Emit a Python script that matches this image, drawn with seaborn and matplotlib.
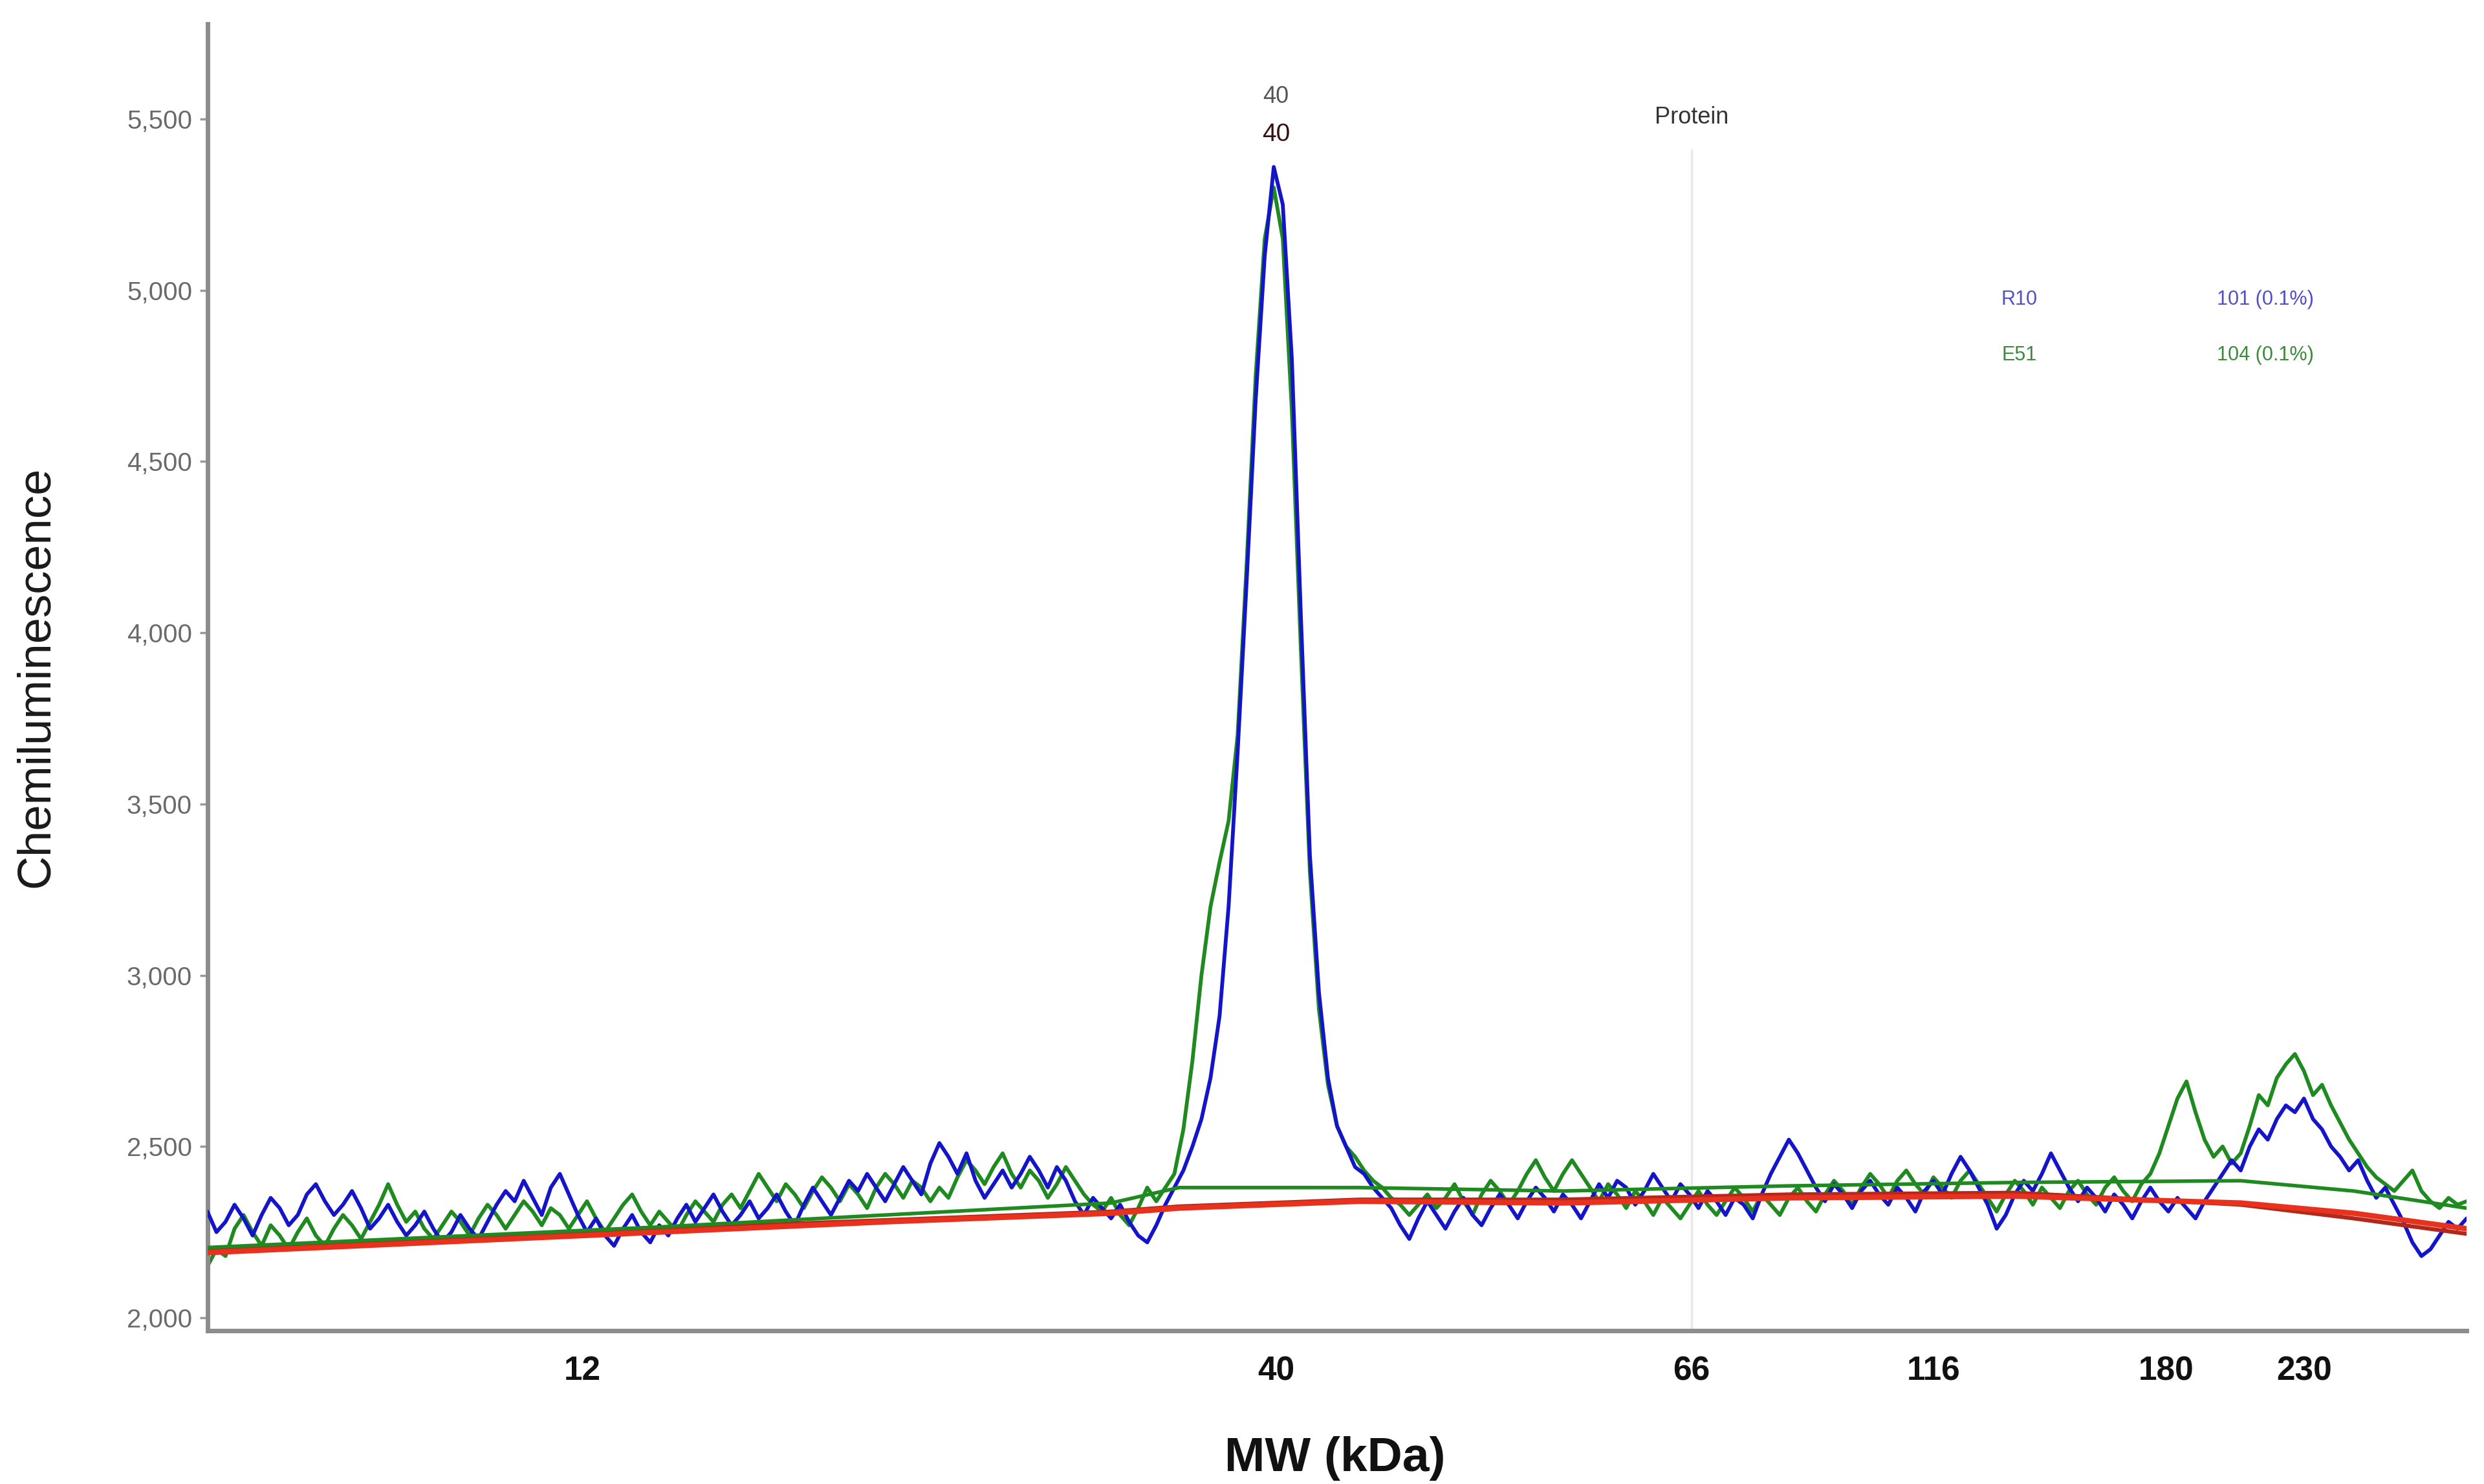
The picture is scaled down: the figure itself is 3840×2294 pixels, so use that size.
import numpy as np
import pandas as pd
import matplotlib
matplotlib.use("Agg")
import matplotlib.pyplot as plt
import seaborn as sns

# ---------------- data ----------------
ladder_mw = ["12", "40", "66", "116", "180", "230"]
ladder_pos = [16.6, 47.3, 65.7, 76.4, 86.7, 92.8]

position = np.linspace(0, 100, 251)

blue_trace = [
    2310, 2250, 2280, 2330, 2290, 2240, 2300, 2350, 2320, 2270,
    2300, 2360, 2390, 2340, 2300, 2330, 2370, 2320, 2260, 2290,
    2330, 2280, 2240, 2270, 2310, 2260, 2220, 2250, 2300, 2260,
    2230, 2280, 2330, 2370, 2340, 2400, 2350, 2300, 2380, 2420,
    2360, 2300, 2250, 2290, 2240, 2210, 2260, 2300, 2250, 2220,
    2270, 2240, 2290, 2330, 2280, 2320, 2360, 2310, 2270, 2300,
    2340, 2290, 2320, 2360, 2310, 2270, 2330, 2380, 2340, 2300,
    2350, 2400, 2370, 2420, 2380, 2340, 2390, 2440, 2400, 2360,
    2450, 2510, 2470, 2420, 2480, 2400, 2350, 2390, 2430, 2380,
    2420, 2470, 2430, 2380, 2440, 2400, 2340, 2300, 2350, 2320,
    2290, 2330, 2280, 2240, 2220, 2270, 2330,
    2380, 2430, 2500, 2580, 2700, 2880, 3200, 3650, 4150, 4680,
    5100, 5360, 5250, 4800, 4050, 3350, 2950, 2700, 2560, 2500,
    2440, 2420, 2380, 2350, 2320, 2270, 2230, 2290,
    2340, 2300, 2260, 2310, 2350, 2300, 2270, 2320, 2360, 2330,
    2290, 2340, 2380, 2350, 2310, 2360, 2330, 2290, 2340, 2390,
    2350, 2400, 2380, 2330, 2370, 2420, 2380, 2340, 2390, 2360,
    2320, 2370, 2340, 2300, 2350, 2330, 2290, 2360, 2420, 2470,
    2520, 2480, 2430, 2380, 2340, 2390, 2360, 2320, 2370, 2400,
    2360, 2330, 2380, 2350, 2310, 2370, 2400, 2360, 2420, 2470,
    2430, 2380, 2330, 2260, 2300, 2360, 2400, 2370, 2420, 2480,
    2430, 2380, 2340, 2380, 2350, 2310, 2360, 2330, 2290, 2340,
    2380, 2340, 2310, 2350, 2320, 2290, 2340, 2380, 2420, 2460,
    2430, 2500, 2550, 2520, 2580, 2620, 2600, 2640, 2580, 2550,
    2500, 2470, 2430, 2460, 2400, 2350, 2380, 2330, 2280, 2220,
    2180, 2200, 2240, 2280, 2260, 2290,
]

green_trace = [
    2150, 2200, 2180, 2260, 2300, 2250, 2210, 2270, 2240, 2200,
    2250, 2290, 2240, 2210, 2260, 2300, 2270, 2230, 2280, 2330,
    2390, 2330, 2280, 2310, 2260, 2230, 2270, 2310, 2280, 2240,
    2290, 2330, 2300, 2260, 2300, 2340, 2310, 2270, 2320, 2300,
    2260, 2300, 2340, 2290, 2250, 2290, 2330, 2360, 2310, 2270,
    2310, 2280, 2250, 2300, 2340, 2310, 2280, 2330, 2360, 2320,
    2370, 2420, 2380, 2340, 2390, 2360, 2320, 2370, 2410, 2380,
    2340, 2390, 2360, 2320, 2380, 2420, 2390, 2350, 2400, 2380,
    2340, 2380, 2350, 2410, 2460, 2430, 2390, 2440, 2480, 2420,
    2380, 2430, 2400, 2350, 2390, 2440, 2400, 2360, 2330, 2310,
    2350, 2300, 2270, 2320, 2380, 2340, 2380,
    2420, 2550, 2750, 3000, 3200, 3330, 3450, 3700, 4200, 4750,
    5150, 5300, 5150, 4650, 3950, 3300, 2900, 2680, 2560, 2500,
    2470, 2430, 2400, 2380, 2350, 2330, 2300, 2330,
    2360, 2320, 2350, 2390, 2340, 2300, 2360, 2400, 2370, 2330,
    2370, 2420, 2460, 2410, 2370, 2420, 2460, 2420, 2380, 2340,
    2390, 2360, 2320, 2370, 2340, 2300, 2350, 2320, 2290, 2330,
    2370, 2330, 2300, 2340, 2380, 2350, 2310, 2360, 2330, 2300,
    2350, 2380, 2340, 2310, 2360, 2400, 2370, 2330, 2380, 2420,
    2390, 2350, 2400, 2430, 2390, 2360, 2410, 2380, 2350, 2400,
    2430, 2390, 2350, 2310, 2360, 2400, 2370, 2330, 2380, 2350,
    2320, 2370, 2400, 2360, 2330, 2380, 2410, 2370, 2340, 2390,
    2420, 2480, 2560, 2640, 2690, 2600, 2520, 2470, 2500, 2450,
    2480, 2560, 2650, 2620, 2700, 2740, 2770, 2720, 2650, 2680,
    2620, 2570, 2520, 2480, 2440, 2410, 2390, 2370, 2400, 2430,
    2370, 2340, 2320, 2350, 2330, 2340,
]

baseline_pos = [0, 10, 20, 30, 40, 43, 51, 60, 70, 80, 90, 95, 100]
red_baseline = [2190, 2220, 2250, 2280, 2305, 2320, 2340, 2335, 2350, 2355, 2335, 2305, 2260]
darkred_baseline = [2200, 2230, 2260, 2285, 2310, 2325, 2345, 2345, 2360, 2365, 2330, 2290, 2245]
green_baseline = [2205, 2235, 2265, 2300, 2335, 2380, 2380, 2370, 2385, 2395, 2400, 2370, 2320]

peak_pos = 47.3
peak_labels = ["40", "40"]
protein_pos = 65.7
legend_rows = [("R10", "101 (0.1%)"), ("E51", "104 (0.1%)")]

# ---------------- style ----------------
sns.set_theme(style="white")
plt.rcParams["font.family"] = ["Liberation Sans", "DejaVu Sans"]

BLUE = "#1414c8"
GREEN = "#1f8a1f"
RED = "#e8321e"
DARKRED = "#b4281c"

fig = plt.figure(figsize=(38.4, 22.94), dpi=100)
ax = fig.add_axes([0.0835, 0.1035, 0.9095, 0.8805])

traces = pd.DataFrame({"pos": position, "blue": blue_trace, "green": green_trace})
bases = pd.DataFrame({"pos": baseline_pos, "red": red_baseline,
                      "darkred": darkred_baseline, "green": green_baseline})

# light vertical marker line for "Protein"
ax.axvline(protein_pos, ymin=0, ymax=(5410 - 1963) / (5778 - 1963),
           color="#e8e8e8", lw=2.5, zorder=0)

sns.lineplot(data=traces, x="pos", y="green", color=GREEN, lw=4.2, ax=ax, zorder=2)
sns.lineplot(data=traces, x="pos", y="blue", color=BLUE, lw=4.2, ax=ax, zorder=3)
sns.lineplot(data=bases, x="pos", y="darkred", color=DARKRED, lw=4.5, ax=ax, zorder=4)
sns.lineplot(data=bases, x="pos", y="red", color=RED, lw=6, ax=ax, zorder=4)
sns.lineplot(data=bases, x="pos", y="green", color=GREEN, lw=4, ax=ax, zorder=4)

ax.set_xlim(0, 100)
ax.set_ylim(1963, 5778)

ax.set_xticks(ladder_pos)
ax.set_xticklabels(ladder_mw, fontsize=37, fontweight="bold", color="#111111")
ax.tick_params(axis="x", length=0, pad=28)

yt = [2000, 2500, 3000, 3500, 4000, 4500, 5000, 5500]
ax.set_yticks(yt)
ax.set_yticklabels([f"{v:,}" for v in yt], fontsize=29, color="#6a6a6a")
ax.tick_params(axis="y", left=True, length=9, width=2.5, color="#999999", pad=8)

for s in ["top", "right"]:
    ax.spines[s].set_visible(False)
for s in ["left", "bottom"]:
    ax.spines[s].set_color("#8c8c8c")
    ax.spines[s].set_linewidth(5)

ax.set_xlabel("MW (kDa)", fontsize=54, fontweight="bold", color="#111111")
ax.set_ylabel("Chemiluminescence", fontsize=52, color="#1a1a1a")
ax.xaxis.set_label_coords(0.499, -0.081)
ax.yaxis.set_label_coords(-0.066, 0.5)

# annotations
ax.text(peak_pos, 5565, peak_labels[0], ha="center", va="center", fontsize=26, color="#555555")
ax.text(peak_pos, 5455, peak_labels[1], ha="center", va="center", fontsize=28, color="#3a1010")
ax.text(protein_pos, 5505, "Protein", ha="center", va="center", fontsize=26, color="#333333")

ax.text(80.2, 4972, legend_rows[0][0], ha="center", va="center", fontsize=22, color="#5050c8")
ax.text(91.1, 4972, legend_rows[0][1], ha="center", va="center", fontsize=22, color="#5050c8")
ax.text(80.2, 4810, legend_rows[1][0], ha="center", va="center", fontsize=22, color="#3c8a3c")
ax.text(91.1, 4810, legend_rows[1][1], ha="center", va="center", fontsize=22, color="#3c8a3c")

fig.savefig("out.png", dpi=100)
